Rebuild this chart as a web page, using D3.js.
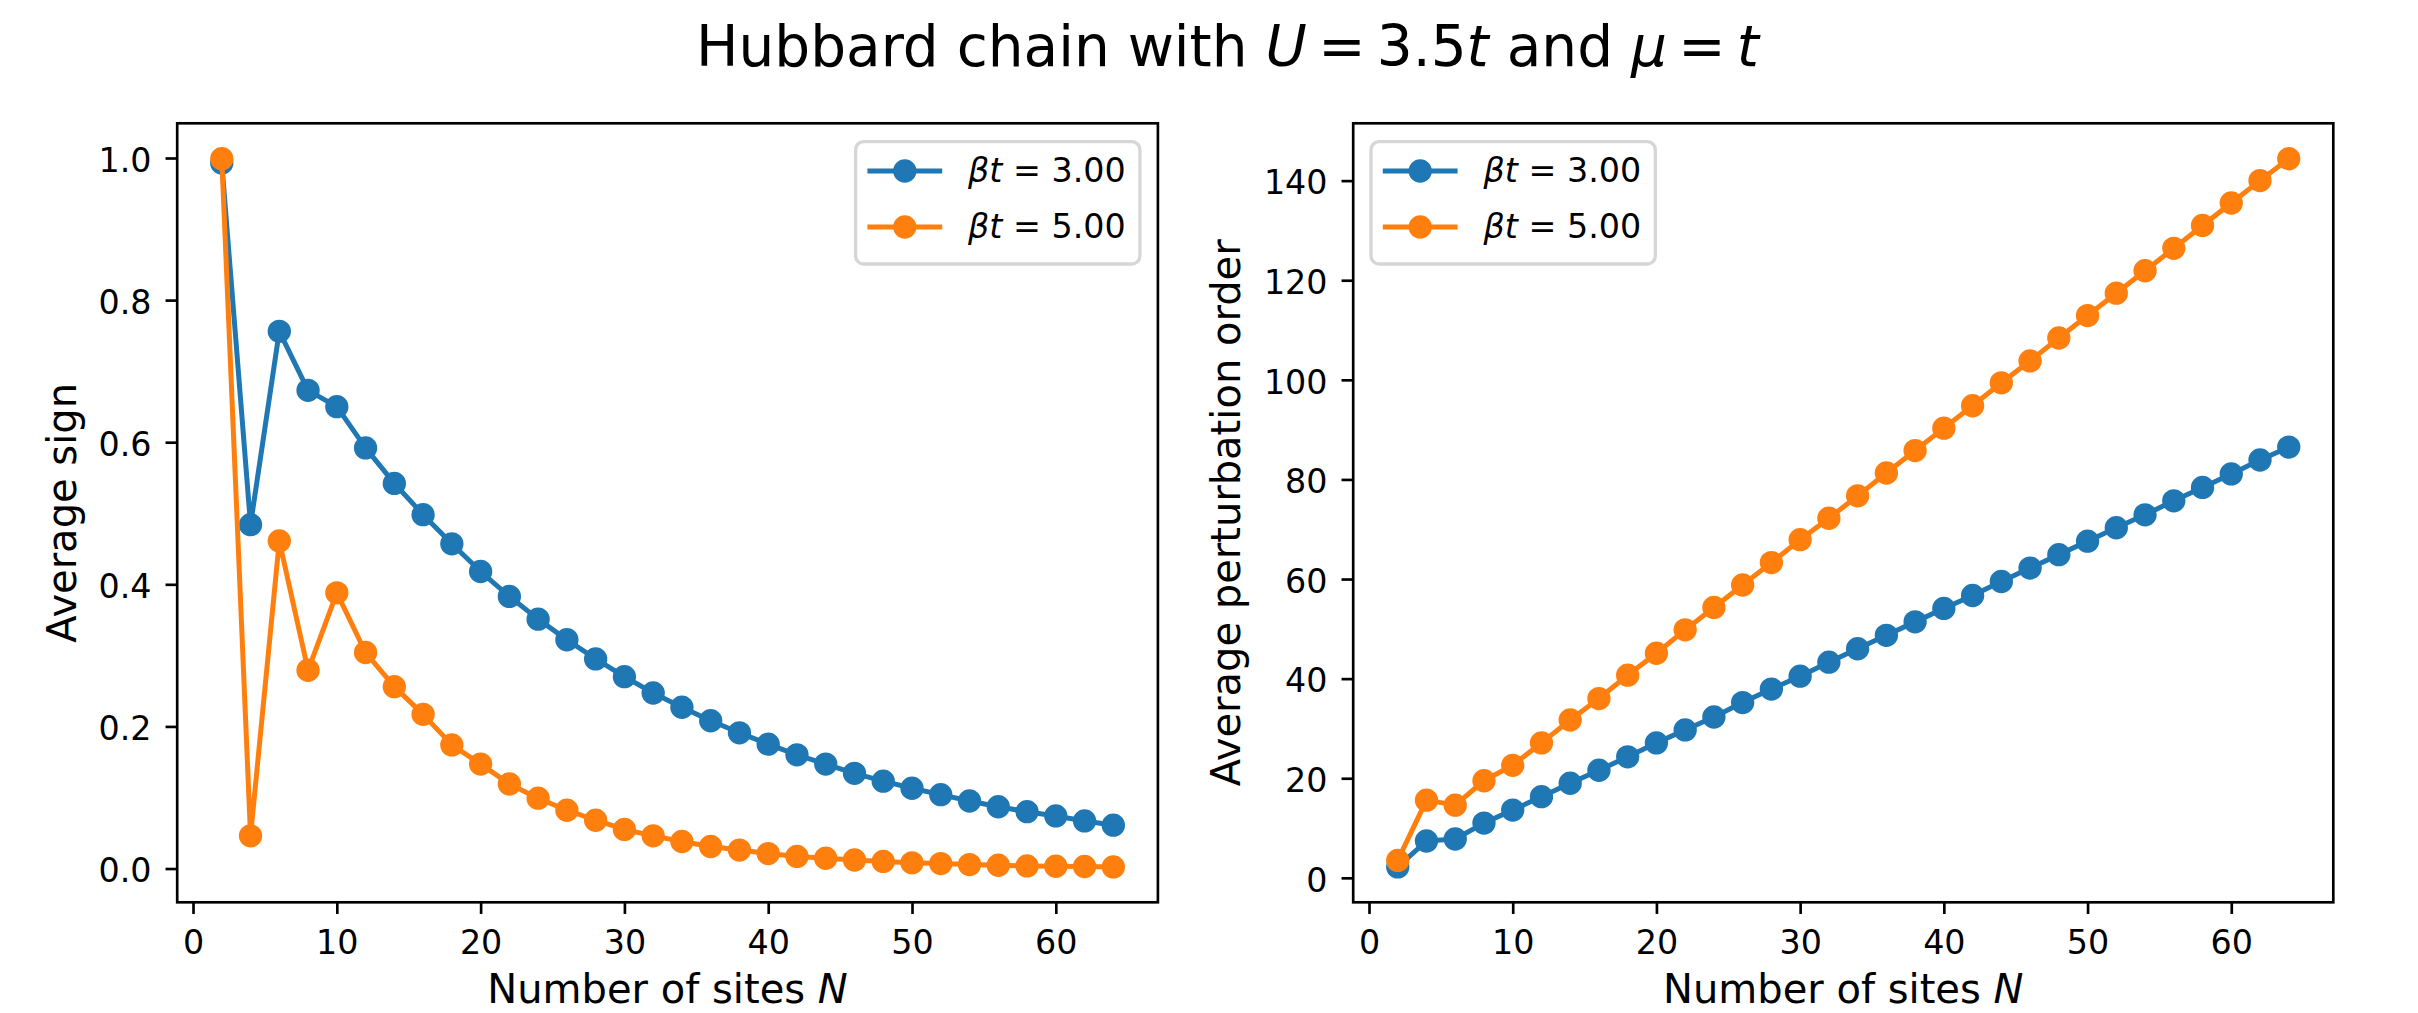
<!DOCTYPE html>
<html>
<head>
<meta charset="utf-8">
<script src="https://cdn.jsdelivr.net/npm/d3@7"></script>
<style>
  html, body { margin: 0; padding: 0; background: #fff; }
  svg { display: block; }
  text { font-family: "DejaVu Sans", sans-serif; fill: #000; }
</style>
</head>
<body>
<svg id="chart" width="2418" height="1013"></svg>
<script>
// ---------------- data ----------------
const sites = [2,4,6,8,10,12,14,16,18,20,22,24,26,28,30,32,34,36,38,40,42,44,46,48,50,52,54,56,58,60,62,64];

const signBeta3 = [0.993,0.484,0.756,0.673,0.650,0.592,0.542,0.498,0.457,0.418,0.383,0.351,0.322,0.295,0.270,0.247,0.227,0.208,0.191,0.175,0.160,0.147,0.134,0.123,0.113,0.104,0.095,0.087,0.080,0.074,0.067,0.061];
const signBeta5 = [0.999,0.046,0.461,0.279,0.388,0.304,0.256,0.217,0.174,0.147,0.119,0.099,0.082,0.068,0.055,0.046,0.038,0.031,0.026,0.021,0.017,0.0145,0.012,0.010,0.008,0.007,0.0056,0.0046,0.0037,0.0032,0.0028,0.0023];

const orderBeta3 = [2.2,7.4,7.8,11.0,13.6,16.3,19.0,21.6,24.3,27.1,29.7,32.3,35.2,37.9,40.5,43.3,46.0,48.7,51.4,54.1,56.7,59.5,62.2,64.9,67.6,70.3,72.9,75.7,78.4,81.1,83.9,86.5];
const orderBeta5 = [3.5,15.6,14.6,19.5,22.6,27.1,31.7,36.0,40.7,45.1,49.8,54.3,58.8,63.3,67.9,72.2,76.7,81.3,85.8,90.3,94.8,99.4,103.8,108.4,112.9,117.4,121.9,126.4,131.0,135.5,140.0,144.4];

const seriesNames = ["3.00", "5.00"];
const seriesColors = ["#1f77b4", "#ff7f0e"];

const xTicks = [0,10,20,30,40,50,60];
const signTicks = [0.0,0.2,0.4,0.6,0.8,1.0];
const orderTicks = [0,20,40,60,80,100,120,140];

const titleParts = [["Hubbard chain with ", false], ["U", true], ["\u2009=\u20093.5", false], ["t", true], [" and ", false], ["μ", true], ["\u2009=\u2009", false], ["t", true]];
const xLabelParts = [["Number of sites ", false], ["N", true]];
const yLabels = ["Average sign", "Average perturbation order"];

// ---------------- layout ----------------
const svg = d3.select("#chart");
const S = 240/72; // px per pt
const fontTick = 10*S, fontLabel = 12*S, fontTitle = 56.5;

const panels = [
  { x0: 177.2, x1: 1157.9, y0: 123.3, y1: 902.3, series: [signBeta3, signBeta5], ticks: signTicks, fmt: d3.format(".1f"), ylab: yLabels[0], ylabX: 76, legend: "right" },
  { x0: 1353.2, x1: 2333.3, y0: 123.3, y1: 902.3, series: [orderBeta3, orderBeta5], ticks: orderTicks, fmt: d3.format("d"), ylab: yLabels[1], ylabX: 1240, legend: "left" }
];

function padded(ext) {
  const p = (ext[1]-ext[0])*0.05;
  return [ext[0]-p, ext[1]+p];
}

function richText(sel, parts) {
  parts.forEach(([t, it]) => {
    sel.append("tspan").text(t).attr("font-style", it ? "italic" : "normal");
  });
}

// title
const title = svg.append("text")
  .attr("x", 1227.5).attr("y", 65.7)
  .attr("text-anchor", "middle")
  .attr("font-size", fontTitle);
richText(title, titleParts);

panels.forEach(pn => {
  const x = d3.scaleLinear().domain(padded(d3.extent(sites))).range([pn.x0, pn.x1]);
  const allY = pn.series.flat();
  const y = d3.scaleLinear().domain(padded(d3.extent(allY))).range([pn.y1, pn.y0]);

  const g = svg.append("g");

  // x axis
  const gx = g.append("g").attr("transform", `translate(0,${pn.y1})`)
    .call(d3.axisBottom(x).tickValues(xTicks).tickFormat(d3.format("d")).tickSize(3.5*S).tickSizeOuter(0).tickPadding(16));
  gx.select(".domain").remove();
  gx.selectAll(".tick line").attr("stroke", "#000").attr("stroke-width", 0.8*S);
  gx.selectAll(".tick text").attr("font-size", fontTick).attr("font-family", "DejaVu Sans").attr("fill", "#000");

  // y axis
  const gy = g.append("g").attr("transform", `translate(${pn.x0},0)`)
    .call(d3.axisLeft(y).tickValues(pn.ticks).tickFormat(pn.fmt).tickSize(3.5*S).tickSizeOuter(0).tickPadding(14));
  gy.select(".domain").remove();
  gy.selectAll(".tick line").attr("stroke", "#000").attr("stroke-width", 0.8*S);
  gy.selectAll(".tick text").attr("font-size", fontTick).attr("font-family", "DejaVu Sans").attr("fill", "#000").attr("dy", "0.4em");

  // clip
  const clipId = "clip" + Math.round(pn.x0);
  svg.append("clipPath").attr("id", clipId).append("rect")
    .attr("x", pn.x0).attr("y", pn.y0).attr("width", pn.x1-pn.x0).attr("height", pn.y1-pn.y0);

  const plot = g.append("g").attr("clip-path", `url(#${clipId})`);
  const line = d3.line().x((d,i) => x(sites[i])).y(d => y(d));
  pn.series.forEach((vals, si) => {
    plot.append("path").datum(vals).attr("d", line)
      .attr("fill", "none").attr("stroke", seriesColors[si]).attr("stroke-width", 1.5*S)
      .attr("stroke-linejoin", "round").attr("stroke-linecap", "square");
    plot.selectAll(null).data(vals).enter().append("circle")
      .attr("cx", (d,i) => x(sites[i])).attr("cy", d => y(d))
      .attr("r", 3*S).attr("fill", seriesColors[si])
      .attr("stroke", seriesColors[si]).attr("stroke-width", 1*S);
  });

  // frame
  g.append("rect").attr("x", pn.x0).attr("y", pn.y0).attr("width", pn.x1-pn.x0).attr("height", pn.y1-pn.y0)
    .attr("fill", "none").attr("stroke", "#000").attr("stroke-width", 0.8*S);

  // x label
  const xl = g.append("text").attr("x", (pn.x0+pn.x1)/2).attr("y", 1003)
    .attr("text-anchor", "middle").attr("font-size", fontLabel);
  richText(xl, xLabelParts);

  // y label
  g.append("text").attr("transform", `translate(${pn.ylabX},${(pn.y0+pn.y1)/2}) rotate(-90)`)
    .attr("text-anchor", "middle").attr("font-size", fontLabel).text(pn.ylab);

  // legend
  const lw = 284.3, lh = 122.3;
  const lx = pn.legend === "right" ? pn.x1 - 18 - lw : pn.x0 + 17.8;
  const ly = pn.y0 + 18.4;
  const lg = g.append("g");
  lg.append("rect").attr("x", lx).attr("y", ly).attr("width", lw).attr("height", lh)
    .attr("rx", 8).attr("ry", 8)
    .attr("fill", "#fff").attr("fill-opacity", 0.8)
    .attr("stroke", "#cccccc").attr("stroke-opacity", 0.8).attr("stroke-width", 1*S);
  seriesNames.forEach((nm, si) => {
    const cy = ly + 29.3 + si*56;
    lg.append("line").attr("x1", lx+11.8).attr("x2", lx+86.6).attr("y1", cy).attr("y2", cy)
      .attr("stroke", seriesColors[si]).attr("stroke-width", 1.5*S);
    lg.append("circle").attr("cx", lx+49.2).attr("cy", cy).attr("r", 3*S)
      .attr("fill", seriesColors[si]).attr("stroke", seriesColors[si]).attr("stroke-width", 1*S);
    const t = lg.append("text").attr("x", lx+112.5).attr("y", cy+11.4).attr("font-size", fontTick);
    richText(t, [["βt", true], [" = " + nm, false]]);
  });
});
</script>
</body>
</html>
